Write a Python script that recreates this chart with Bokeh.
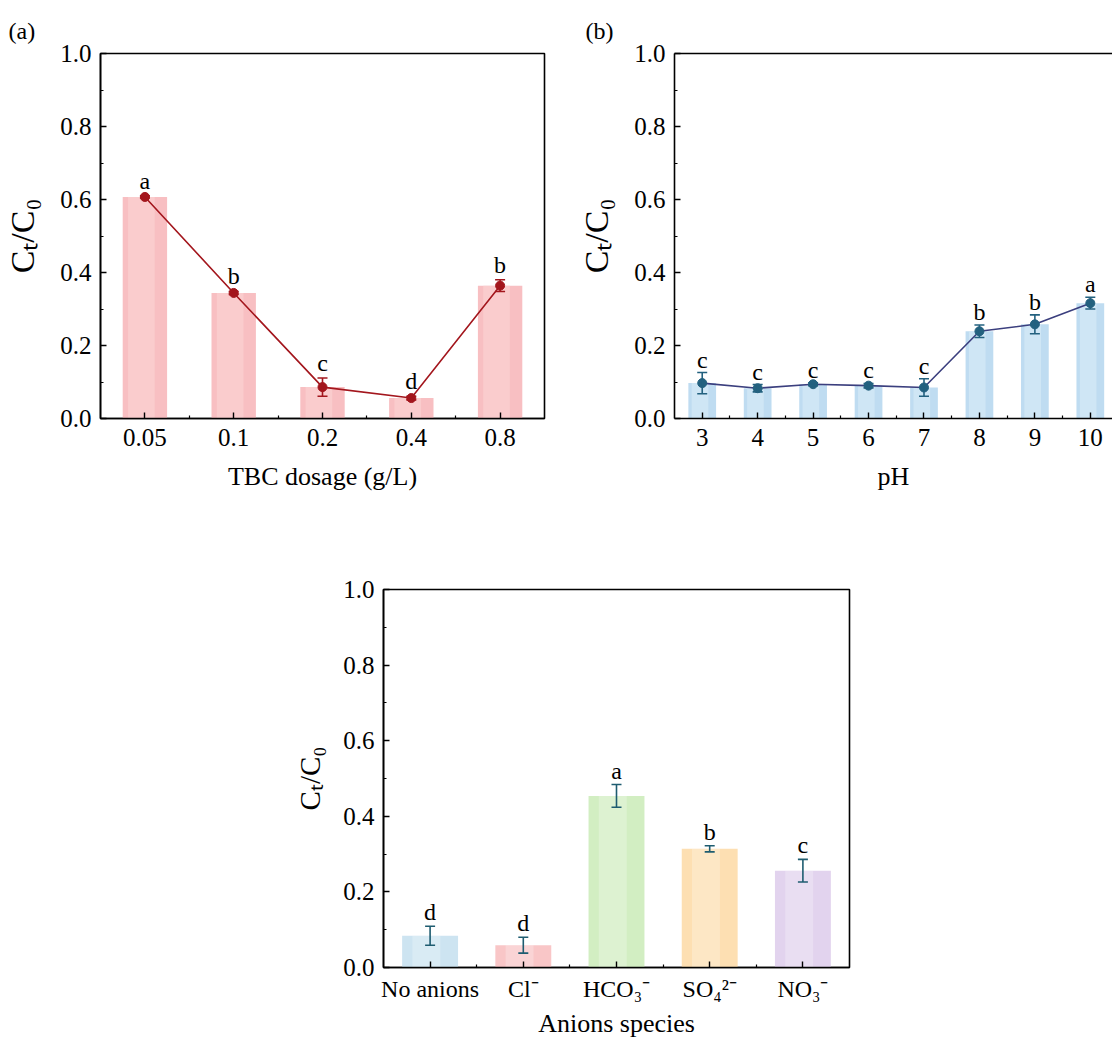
from bokeh.plotting import figure
from bokeh.models import (Range1d, FixedTicker, LinearAxis, Whisker, TeeHead,
                          ColumnDataSource, LabelSet, Spacer, PrintfTickFormatter, Title)
from bokeh.layouts import row, column
from bokeh.embed import file_html
from bokeh.resources import INLINE
from bokeh.core.properties import value

# ---------------- data ----------------
dosage_labels = ["0.05", "0.1", "0.2", "0.4", "0.8"]
dosage_ct = [0.607, 0.344, 0.086, 0.056, 0.364]
dosage_err = [0.003, 0.004, 0.025, 0.005, 0.016]
dosage_sig = ["a", "b", "c", "d", "b"]

ph_values = [3, 4, 5, 6, 7, 8, 9, 10]
ph_ct = [0.097, 0.083, 0.094, 0.090, 0.085, 0.239, 0.258, 0.316]
ph_err = [0.029, 0.010, 0.004, 0.006, 0.024, 0.017, 0.026, 0.016]
ph_sig = ["c", "c", "c", "c", "c", "b", "b", "a"]

anion_labels = ["No anions", "Cl\u207b", "HCO\u2083\u207b", "SO\u2084\u00b2\u207b", "NO\u2083\u207b"]
anion_ct = [0.084, 0.059, 0.454, 0.314, 0.256]
anion_err = [0.025, 0.021, 0.030, 0.008, 0.030]
anion_sig = ["d", "d", "a", "b", "c"]
anion_colors = ["#cde4f1", "#f9c6c7", "#d2eec2", "#fddfb2", "#e2d3ee"]

y_ticks = [0.0, 0.2, 0.4, 0.6, 0.8, 1.0]
y_minor = [0.1, 0.3, 0.5, 0.7, 0.9]
y_title = "C\u209c/C\u2080"

SERIF = "Liberation Serif"


def make_fig(width, height, xr, bl, br, bt, bb, box=True):
    p = figure(width=width, height=height, x_range=xr, y_range=Range1d(0, 1.0),
               output_backend="svg", toolbar_location=None,
               min_border_left=bl, min_border_right=br,
               min_border_top=bt, min_border_bottom=bb)
    p.grid.visible = False
    p.background_fill_color = "white"
    p.border_fill_color = "white"
    if box:
        p.outline_line_color = "black"
        p.outline_line_width = 1.6
        p.outline_line_alpha = 1.0
    else:
        p.outline_line_color = None
    return p


def style_axes(p, xticks, xminor, xtitle):
    p.xaxis.ticker = FixedTicker(ticks=xticks, minor_ticks=xminor)
    p.yaxis.ticker = FixedTicker(ticks=y_ticks, minor_ticks=y_minor)
    p.yaxis.formatter = PrintfTickFormatter(format="%.1f")
    for ax in p.xaxis + p.yaxis:
        ax.axis_line_color = "black"
        ax.axis_line_width = 1.6
        ax.major_tick_line_color = "black"
        ax.minor_tick_line_color = "black"
        ax.major_tick_line_width = 1.4
        ax.minor_tick_line_width = 1.2
        ax.major_tick_in = 6
        ax.major_tick_out = 0
        ax.minor_tick_in = 3
        ax.minor_tick_out = 0
        ax.major_label_text_font = SERIF
        ax.major_label_text_font_size = "25px"
        ax.major_label_text_color = "black"
        ax.axis_label_text_font = SERIF
        ax.axis_label_text_font_style = "normal"
        ax.axis_label_text_color = "black"
    p.xaxis.major_label_standoff = 10
    p.yaxis.major_label_standoff = 9
    p.xaxis.axis_label = xtitle
    p.xaxis.axis_label_text_font_size = "26px"
    p.xaxis.axis_label_standoff = 13
    p.yaxis.axis_label = y_title
    p.yaxis.axis_label_text_font_size = "34px"
    p.yaxis.axis_label_standoff = 16


def panel_tag(p, text, offset):
    p.add_layout(Title(text=text, align="left", offset=offset, standoff=20,
                       text_font=SERIF, text_font_size="24px", text_font_style="normal",
                       text_color="black"), "above")


def whiskers(p, src, color):
    p.add_layout(Whisker(base="x", upper="upper", lower="lower", source=src,
                         line_color=color, line_width=1.6, level="overlay",
                         upper_head=TeeHead(size=10, line_color=color, line_width=1.6),
                         lower_head=TeeHead(size=10, line_color=color, line_width=1.6)))


def letters(p, src, yoff):
    p.add_layout(LabelSet(x="x", y="upper", text="sig", source=src, text_align="center",
                          text_baseline="alphabetic", y_offset=yoff,
                          text_font=value(SERIF), text_font_size=value("24px"),
                          text_color="black"))


# ---------------- panel (a) ----------------
xa = list(range(len(dosage_labels)))
src_a = ColumnDataSource(dict(
    x=xa, y=dosage_ct,
    upper=[v + e for v, e in zip(dosage_ct, dosage_err)],
    lower=[v - e for v, e in zip(dosage_ct, dosage_err)],
    sig=dosage_sig))
pa = make_fig(575, 508, Range1d(-0.5, len(xa) - 0.5), 100, 31, 53, 90, box=True)
style_axes(pa, xa, [i + 0.5 for i in xa[:-1]], "TBC dosage (g/L)")
pa.xaxis.major_label_overrides = {i: lab for i, lab in zip(xa, dosage_labels)}
pa.vbar(x="x", top="y", width=0.5, source=src_a, fill_color="#f8bfc2", line_color=None)
pa.vbar(x=[i - 0.04 for i in xa], top=dosage_ct, width=0.3, fill_color="#fbd1d2",
        fill_alpha=0.7, line_color=None)
pa.line(x="x", y="y", source=src_a, line_color="#a3161d", line_width=1.6)
pa.scatter(x="x", y="y", source=src_a, size=9, fill_color="#a3161d", line_color="#a3161d")
whiskers(pa, src_a, "#a3161d")
letters(pa, src_a, 7)
panel_tag(pa, "(a)", -92)

# ---------------- panel (b) ----------------
src_b = ColumnDataSource(dict(
    x=ph_values, y=ph_ct,
    upper=[v + e for v, e in zip(ph_ct, ph_err)],
    lower=[v - e for v, e in zip(ph_ct, ph_err)],
    sig=ph_sig))
pb = make_fig(537, 508, Range1d(ph_values[0] - 0.5, 10.4), 97, 0, 53, 90, box=False)
style_axes(pb, ph_values, [v + 0.5 for v in ph_values], "pH")
top_axis = LinearAxis(ticker=FixedTicker(ticks=[]), major_label_text_font_size="0px",
                      major_tick_line_color=None, minor_tick_line_color=None,
                      axis_line_color="black", axis_line_width=1.6)
pb.add_layout(top_axis, "above")
pb.vbar(x="x", top="y", width=0.5, source=src_b, fill_color="#bfdcf1", line_color=None)
pb.vbar(x=[v - 0.04 for v in ph_values], top=ph_ct, width=0.3, fill_color="#d6eaf7",
        fill_alpha=0.7, line_color=None)
pb.line(x="x", y="y", source=src_b, line_color="#3b3f7e", line_width=1.6)
pb.scatter(x="x", y="y", source=src_b, size=9, fill_color="#23617f", line_color="#23617f")
whiskers(pb, src_b, "#23617f")
letters(pb, src_b, 5)
panel_tag(pb, "(b)", -89)

# ---------------- panel (c) ----------------
xc = list(range(len(anion_labels)))
src_c = ColumnDataSource(dict(
    x=xc, y=anion_ct,
    upper=[v + e for v, e in zip(anion_ct, anion_err)],
    lower=[v - e for v, e in zip(anion_ct, anion_err)],
    sig=anion_sig, color=anion_colors))
pc = make_fig(589, 532, Range1d(-0.5, len(xc) - 0.5), 103, 20, 81, 71, box=True)
style_axes(pc, xc, [i + 0.5 for i in xc[:-1]], "Anions species")
pc.xaxis.major_label_overrides = {i: lab for i, lab in zip(xc, anion_labels)}
pc.xaxis.major_label_text_font_size = "24px"
pc.xaxis.major_label_standoff = 8
pc.xaxis.axis_label_standoff = 4
pc.yaxis.axis_label_text_font_size = "29px"
pc.yaxis.axis_label_standoff = 14
pc.vbar(x="x", top="y", width=0.6, source=src_c, fill_color="color", line_color=None)
pc.vbar(x=[i - 0.04 for i in xc], top=anion_ct, width=0.3, fill_color="white",
        fill_alpha=0.25, line_color=None)
whiskers(pc, src_c, "#1e5c70")
letters(pc, src_c, 6)

layout = column(row(pa, pb), row(Spacer(width=280, height=532), pc))

open("out.html", "w").write(file_html(layout, INLINE))
